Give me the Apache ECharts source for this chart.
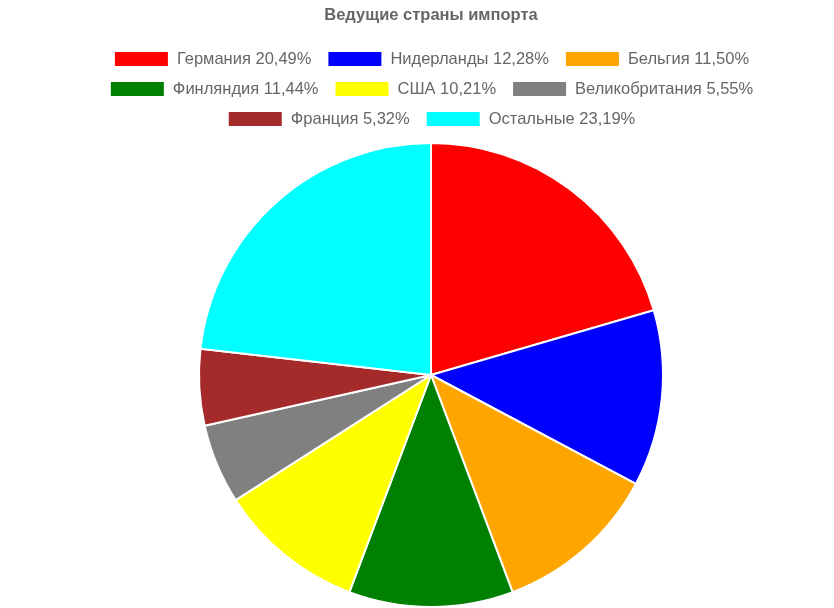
<!DOCTYPE html>
<html>
<head>
<meta charset="utf-8">
<script src="https://cdn.jsdelivr.net/npm/echarts@6/dist/echarts.min.js"></script>
<style>
  html, body { margin: 0; padding: 0; background: #fff; overflow: hidden; }
  /* chart is centred on x = 431 in the reference, so widen the box a bit */
  #main { width: 862px; height: 608px; }
</style>
</head>
<body>
<div id="main"></div>
<script>
// data
var countries = ['Германия', 'Нидерланды', 'Бельгия', 'Финляндия', 'США', 'Великобритания', 'Франция', 'Остальные'];
var shares = [20.49, 12.28, 11.50, 11.44, 10.21, 5.55, 5.32, 23.19];
var colors = ['#ff0000', '#0000ff', '#ffa500', '#008000', '#ffff00', '#808080', '#a52a2a', '#00ffff'];
var legendRows = [countries.slice(0, 3), countries.slice(3, 6), countries.slice(6)];

var chart = echarts.init(document.getElementById('main'));

var pieData = [];
for (var i = 0; i < countries.length; i++) {
  pieData.push({ name: countries[i], value: shares[i] });
}

function fmt(name) {
  var idx = countries.indexOf(name);
  return name + ' ' + shares[idx].toFixed(2).replace('.', ',') + '%';
}

// one legend per row so every row is centred on its own
var legends = legendRows.map(function (row, r) {
  return {
    data: row,
    top: 45 + r * 30,
    left: 'center',
    itemWidth: 55,
    itemHeight: 16,
    itemGap: 15,
    icon: 'rect',
    formatter: fmt,
    textStyle: {
      fontFamily: 'Liberation Sans, Arial',
      fontSize: 16.5,
      color: '#666',
      padding: [0, 0, 0, 3]
    }
  };
});

var option = {
  color: colors,
  title: {
    text: 'Ведущие страны импорта',
    left: 'center',
    top: 2,
    textStyle: {
      fontFamily: 'Liberation Sans, Arial',
      fontSize: 16.5,
      fontWeight: 'bold',
      color: '#666'
    }
  },
  legend: legends,
  series: [
    {
      type: 'pie',
      center: [431, 375],
      radius: 232,
      startAngle: 90,
      clockwise: true,
      label: { show: false },
      labelLine: { show: false },
      itemStyle: {
        borderColor: '#fff',
        borderWidth: 2
      },
      emphasis: { scale: false },
      animation: false,
      data: pieData
    }
  ]
};

chart.setOption(option);
</script>
</body>
</html>
